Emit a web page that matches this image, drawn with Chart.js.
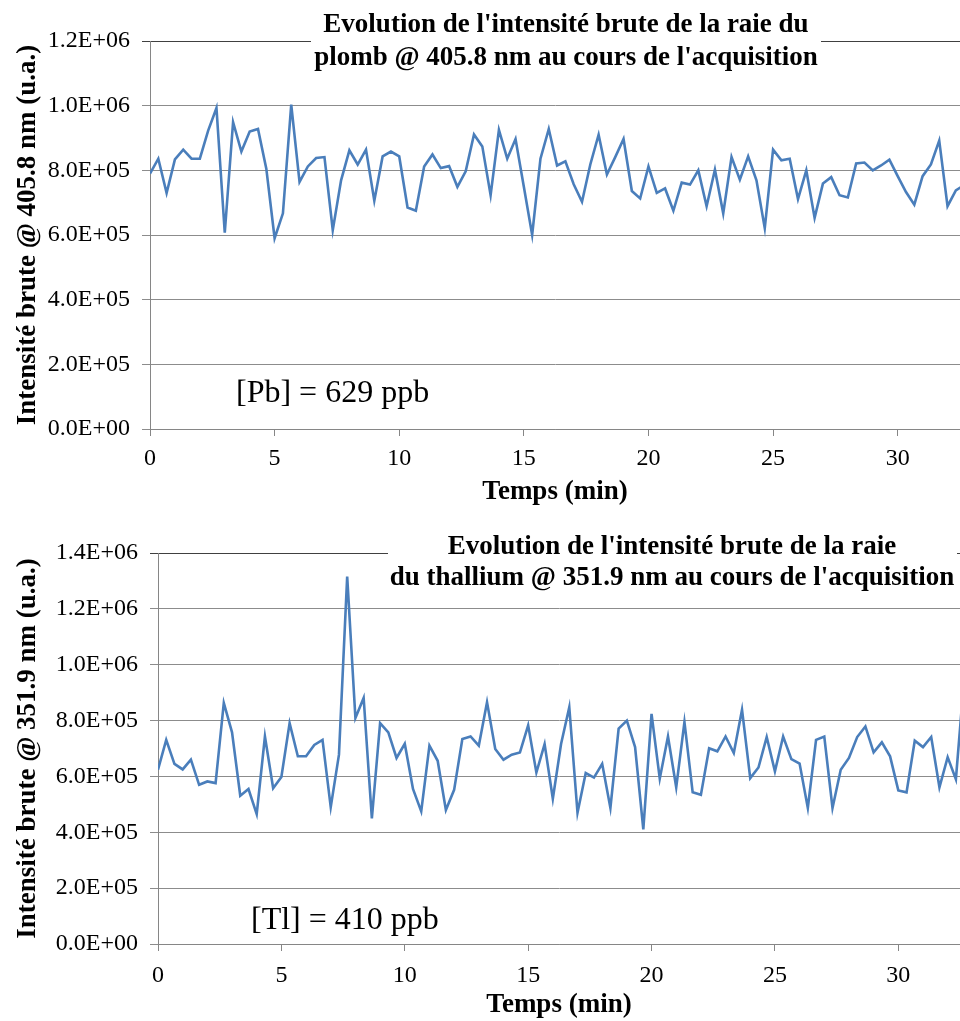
<!DOCTYPE html>
<html>
<head>
<meta charset="utf-8">
<script src="https://cdn.jsdelivr.net/npm/chart.js@4"></script>
<style>
  html, body { margin: 0; padding: 0; background: #fff; }
  #wrap { position: relative; width: 960px; height: 1021px; overflow: hidden; }
  canvas { position: absolute; left: 0; }
  #pbChart { top: 0; }
  #tlChart { top: 510px; }
</style>
</head>
<body>
<div id="wrap">
  <canvas id="pbChart" width="960" height="510"></canvas>
  <canvas id="tlChart" width="960" height="511"></canvas>
</div>
<script>
// acquisition: one reading every 20 s
const sampleStepMin = 1 / 3;

// raw intensity of the Pb 405.8 nm line (u.a.)
const pbIntensity = [
  790000, 836000, 730000, 834000, 864000, 836000, 836000, 923000, 993000, 607000,
  949000, 858000, 920000, 928000, 805000, 590000, 667000, 1003000, 764000, 812000,
  838000, 841000, 615000, 769000, 862000, 818000, 864000, 706000, 843000, 858000,
  843000, 685000, 675000, 812000, 849000, 807000, 813000, 749000, 797000, 911000,
  874000, 723000, 925000, 836000, 897000, 749000, 600000, 836000, 928000, 815000,
  828000, 757000, 703000, 818000, 910000, 787000, 841000, 897000, 736000, 713000,
  812000, 730000, 744000, 675000, 762000, 756000, 800000, 689000, 802000, 667000,
  841000, 771000, 843000, 769000, 621000, 864000, 831000, 836000, 711000, 800000,
  653000, 759000, 779000, 723000, 716000, 821000, 824000, 800000, 815000, 833000,
  782000, 733000, 694000, 782000, 818000, 892000, 689000, 738000, 754000
];

// raw intensity of the Tl 351.9 nm line (u.a.)
const tlIntensity = [
  624000, 731000, 645000, 625000, 660000, 570000, 582000, 576000, 863000, 758000,
  531000, 555000, 465000, 743000, 558000, 598000, 791000, 672000, 672000, 713000,
  731000, 490000, 678000, 1316000, 809000, 881000, 450000, 791000, 758000, 666000,
  717000, 555000, 475000, 710000, 656000, 480000, 552000, 734000, 743000, 710000,
  866000, 698000, 660000, 678000, 686000, 783000, 614000, 716000, 520000, 716000,
  848000, 470000, 612000, 596000, 645000, 487000, 771000, 800000, 705000, 410000,
  824000, 592000, 743000, 561000, 795000, 543000, 534000, 701000, 690000, 743000,
  684000, 839000, 594000, 632000, 741000, 618000, 743000, 662000, 646000, 487000,
  731000, 743000, 487000, 624000, 666000, 741000, 779000, 686000, 722000, 672000,
  550000, 543000, 728000, 705000, 741000, 561000, 669000, 590000, 950000
];

const pbYTickLabels = ['0.0E+00', '2.0E+05', '4.0E+05', '6.0E+05', '8.0E+05', '1.0E+06', '1.2E+06'];
const tlYTickLabels = ['0.0E+00', '2.0E+05', '4.0E+05', '6.0E+05', '8.0E+05', '1.0E+06', '1.2E+06', '1.4E+06'];

const pbTitle = ["Evolution de l'intensité brute de la raie du", "plomb @ 405.8 nm au cours de l'acquisition"];
const tlTitle = ["Evolution de l'intensité brute de la raie", "du thallium @ 351.9 nm au cours de l'acquisition"];
const pbYTitle = 'Intensité brute @ 405.8 nm (u.a.)';
const tlYTitle = 'Intensité brute @ 351.9 nm (u.a.)';
const xTitle = 'Temps (min)';
const pbNote = '[Pb] = 629 ppb';
const tlNote = '[Tl] = 410 ppb';

const FONT = '"Liberation Serif", "Times New Roman", serif';
const LINE_BLUE = '#4a7ebb';

// title block (white box over the top gridline) and the concentration note
const overlayText = {
  id: 'overlayText',
  beforeDatasetsDraw(chart, args, o) {
    const ctx = chart.ctx;
    ctx.save();
    ctx.fillStyle = '#fff';
    ctx.fillRect(o.box[0], o.box[1], o.box[2], o.box[3]);
    ctx.fillStyle = '#000';
    ctx.textAlign = 'center';
    ctx.textBaseline = 'middle';
    ctx.font = 'bold 27px ' + FONT;
    o.title.forEach((t, i) => ctx.fillText(t, o.titleX, o.titleY[i]));
    ctx.textAlign = 'left';
    ctx.textBaseline = 'alphabetic';
    ctx.font = '32px ' + FONT;
    ctx.fillText(o.note, o.noteX, o.noteY);
    ctx.restore();
  }
};

function makeChart(id, values, yMax, yLabels, yTitle, L) {
  const points = values.map((v, i) => ({ x: i * sampleStepMin, y: v }));
  return new Chart(document.getElementById(id), {
    type: 'line',
    data: {
      datasets: [{
        data: points,
        borderColor: LINE_BLUE,
        borderWidth: 2.6,
        pointRadius: 0,
        fill: false,
        tension: 0
      }]
    },
    options: {
      responsive: false,
      animation: false,
      layout: { padding: { top: L.top, right: 0, bottom: 0, left: 0 } },
      plugins: {
        legend: { display: false },
        tooltip: { enabled: false },
        overlayText: L.overlay
      },
      scales: {
        x: {
          type: 'linear',
          min: 0,
          max: 32.5,
          afterFit: s => { s.height = L.xAxisHeight; },
          grid: { drawOnChartArea: false, drawTicks: true, tickLength: 7, color: '#868686' },
          border: { color: '#868686', width: 1 },
          ticks: {
            stepSize: 5,
            includeBounds: false,
            autoSkip: false,
            maxRotation: 0,
            padding: L.xTickPad,
            color: '#000',
            font: { family: FONT, size: 24 }
          },
          title: {
            display: true,
            text: xTitle,
            color: '#000',
            font: { family: FONT, size: 27, weight: 'bold' },
            padding: { top: 0, bottom: L.xTitlePad }
          }
        },
        y: {
          min: 0,
          max: yMax,
          afterFit: s => { s.width = L.left; },
          grid: {
            tickLength: 8,
            color: c => (c.tick && c.tick.value === yMax) ? '#404040' : '#8c8c8c'
          },
          border: { color: '#868686', width: 1 },
          ticks: {
            stepSize: 200000,
            padding: 12,
            color: '#000',
            font: { family: FONT, size: 24 },
            callback: (v, i) => yLabels[i]
          },
          title: {
            display: true,
            text: yTitle,
            color: '#000',
            font: { family: FONT, size: 27, weight: 'bold' },
            padding: { top: 12, bottom: 0 }
          }
        }
      }
    },
    plugins: [overlayText]
  });
}

makeChart('pbChart', pbIntensity, 1200000, pbYTickLabels, pbYTitle, {
  top: 41, left: 150, xAxisHeight: 81, xTickPad: 8, xTitlePad: 2,
  overlay: {
    box: [311, 4, 510, 72],
    title: pbTitle, titleX: 566, titleY: [25, 58],
    note: pbNote, noteX: 236, noteY: 402
  }
});

makeChart('tlChart', tlIntensity, 1400000, tlYTickLabels, tlYTitle, {
  top: 43, left: 158, xAxisHeight: 77, xTickPad: 10, xTitlePad: 0,
  overlay: {
    box: [388, 18, 569, 68],
    title: tlTitle, titleX: 672, titleY: [37, 68],
    note: tlNote, noteX: 251, noteY: 419
  }
});
</script>
</body>
</html>
